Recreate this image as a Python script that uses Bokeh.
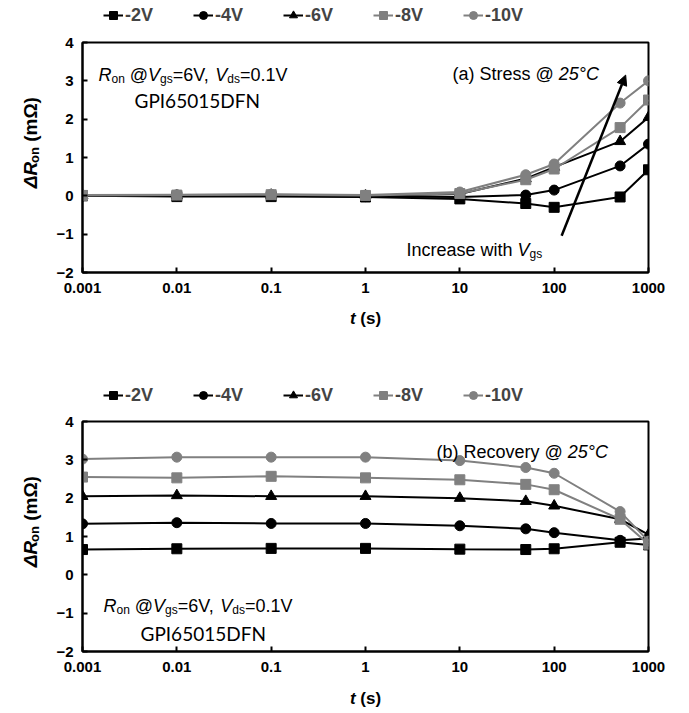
import math
from bokeh.plotting import figure
from bokeh.layouts import column, row
from bokeh.models import (Legend, LegendItem, FixedTicker, Label, Arrow,
                          NormalHead, Range1d)
from bokeh.embed import file_html
from bokeh.resources import INLINE

# ---------------- data ----------------
times = [0.001, 0.01, 0.1, 1, 10, 50, 100, 500, 1000]
series_names = ["-2V", "-4V", "-6V", "-8V", "-10V"]

stress_2v = [0.0, -0.02, -0.02, -0.03, -0.08, -0.2, -0.3, -0.03, 0.68]
stress_4v = [0.0, 0.0, 0.0, -0.02, -0.03, 0.02, 0.15, 0.78, 1.35]
stress_6v = [0.01, 0.01, 0.02, 0.0, 0.05, 0.45, 0.75, 1.42, 2.05]
stress_8v = [0.01, 0.02, 0.03, 0.01, 0.06, 0.42, 0.7, 1.78, 2.5]
stress_10v = [0.02, 0.03, 0.04, 0.02, 0.1, 0.55, 0.83, 2.42, 3.0]

recov_2v = [0.66, 0.68, 0.69, 0.69, 0.67, 0.66, 0.68, 0.85, 0.78]
recov_4v = [1.33, 1.36, 1.34, 1.34, 1.28, 1.2, 1.1, 0.9, 0.95]
recov_6v = [2.05, 2.07, 2.05, 2.05, 2.0, 1.92, 1.8, 1.45, 1.05]
recov_8v = [2.55, 2.53, 2.57, 2.53, 2.48, 2.36, 2.22, 1.45, 0.8]
recov_10v = [3.02, 3.07, 3.07, 3.07, 2.98, 2.8, 2.65, 1.65, 0.88]

x_ticks = [0.001, 0.01, 0.1, 1, 10, 100, 1000]
x_tick_labels = ["0.001", "0.01", "0.1", "1", "10", "100", "1000"]
y_ticks = [-2, -1, 0, 1, 2, 3, 4]

BLACK = "#000000"
GRAY = "#808080"
styles = [("square", BLACK, 10), ("circle", BLACK, 10), ("triangle", BLACK, 11),
          ("square", GRAY, 10), ("circle", GRAY, 10)]

FONT = "Liberation Sans"

# Arial-metric character widths (per 1000 em)
AR = {" ": 278, "(": 333, ")": 333, ",": 278, "-": 333, ".": 278, "=": 584,
      "@": 1015, "C": 722, "I": 278, "R": 722, "S": 667, "V": 667, "a": 556,
      "b": 556, "c": 500, "d": 556, "e": 556, "g": 556, "h": 556, "i": 222,
      "n": 556, "o": 556, "r": 333, "s": 500, "t": 278, "v": 500, "w": 722,
      "y": 500, "°": 400, "Δ": 612, "m": 833, "Ω": 768}
AB = dict(AR)
AB.update({"o": 611, "n": 611, "t": 333, "s": 556, "m": 889})


def tw(s, size, style):
    tab = AB if "bold" in style else AR
    return sum(tab.get(c, 556) for c in s) * size / 1000.0


def rich(p, x, y, pieces, bx=0.0, by=0.0, angle=0.0, center=False,
         baseline="alphabetic", font=FONT):
    widths = [tw(t, s, st) for (t, s, st, sh) in pieces]
    total = sum(widths)
    pos = -total / 2.0 if center else 0.0
    for (t, s, st, sh), w in zip(pieces, widths):
        lead = len(t) - len(t.lstrip(" "))
        d = pos + tw(" " * lead, s, st)
        if angle == 0:
            xo, yo = bx + d, by + sh
        else:
            xo, yo = bx - sh, by + d
        p.add_layout(Label(x=x, y=y, x_offset=xo, y_offset=yo, text=t.strip(),
                           text_font=font, text_font_size=f"{s}px",
                           text_font_style=st, text_color="black",
                           angle=angle, text_align="left",
                           text_baseline=baseline))
        pos += w


def blank(width, height):
    """A bare figure whose frame covers it all, 1 data unit = 1 px."""
    q = figure(width=width, height=height, x_axis_type=None, y_axis_type=None,
               x_range=Range1d(0, width), y_range=Range1d(0, height),
               output_backend="svg", toolbar_location=None,
               min_border=0, min_border_left=0, min_border_right=0,
               min_border_top=0, min_border_bottom=0)
    q.outline_line_color = None
    q.background_fill_color = "white"
    q.border_fill_color = "white"
    return q


def legend_strip(series, height, loc_y):
    q = blank(689, height)
    items = []
    for name, vals, (marker, color, size) in zip(series_names, series, styles):
        r1 = q.line(times, vals, line_color=color, line_width=2, visible=False)
        r2 = q.scatter(times, vals, marker=marker, size=size,
                       fill_color=color, line_color=color, visible=False)
        items.append(LegendItem(label=name, renderers=[r1, r2]))
    legend = Legend(items=items, orientation="horizontal", location=(103, loc_y),
                    glyph_width=20, glyph_height=22, label_height=22,
                    label_width=55, label_standoff=2, spacing=13,
                    padding=0, margin=0, border_line_alpha=0,
                    background_fill_alpha=0,
                    inactive_fill_alpha=0,
                    label_text_font=FONT, label_text_font_style="bold",
                    label_text_font_size="18px")
    q.add_layout(legend, "center")
    return q


def ylabel_strip(height, cy):
    q = blank(52, height)
    rich(q, 30, cy, [("ΔR", 19, "bold italic", 0),
                     ("on", 13, "bold", -4),
                     (" (mΩ)", 19, "bold", 0)],
         angle=math.pi / 2, center=True, baseline="middle")
    return q


def xlabel_strip(height, cy):
    q = blank(689, height)
    rich(q, 365, cy, [("t", 17, "bold italic", 0), (" (s)", 17, "bold", 0)],
         center=True, baseline="middle")
    return q


def make_fig(series):
    p = figure(width=637, height=270, x_axis_type="log",
               x_range=Range1d(0.001, 1000), y_range=Range1d(-2, 4),
               output_backend="svg", toolbar_location=None,
               min_border_left=30, min_border_right=41, min_border_top=10,
               min_border_bottom=30)
    p.grid.visible = False
    p.outline_line_color = "black"
    p.outline_line_width = 2
    p.outline_line_alpha = 1.0
    p.background_fill_color = "white"
    p.border_fill_color = "white"

    p.xaxis.ticker = FixedTicker(ticks=x_ticks)
    p.xaxis.major_label_overrides = {t: l for t, l in zip(x_ticks, x_tick_labels)}
    p.yaxis.ticker = FixedTicker(ticks=y_ticks)
    for ax in (p.xaxis[0], p.yaxis[0]):
        ax.axis_line_width = 2
        ax.axis_line_color = "black"
        ax.major_tick_in = 5
        ax.major_tick_out = 0
        ax.major_tick_line_width = 2
        ax.minor_tick_line_color = None
        ax.major_label_text_font = FONT
        ax.major_label_text_font_style = "bold"
        ax.major_label_text_font_size = "15px"
        ax.major_label_text_color = "black"
    p.xaxis.major_label_standoff = 10
    p.yaxis.major_label_standoff = 9

    for vals, (marker, color, size) in zip(series, styles):
        p.line(times, vals, line_color=color, line_width=2)
        p.scatter(times, vals, marker=marker, size=size,
                  fill_color=color, line_color=color)
    return p


ron_pieces = [("R", 18, "italic", 0), ("on", 12, "normal", -4),
              (" @", 18, "normal", 0), ("V", 18, "italic", 0),
              ("gs", 12, "normal", -4), ("=6V, ", 18, "normal", 0),
              ("V", 18, "italic", 0), ("ds", 12, "normal", -4),
              ("=0.1V", 18, "normal", 0)]

stress = [stress_2v, stress_4v, stress_6v, stress_8v, stress_10v]
recovery = [recov_2v, recov_4v, recov_6v, recov_8v, recov_10v]

# ---------------- top: stress ----------------
p1 = make_fig(stress)
rich(p1, 0.001, 3.15, ron_pieces, bx=16)
p1.add_layout(Label(x=0.001, y=2.5, x_offset=52, text="GPI65015DFN",
                    text_font="Lato", text_font_size="19px",
                    text_color="black", text_baseline="alphabetic"))
rich(p1, 0.001, 3.18, [("(a) Stress @ ", 18, "normal", 0),
                       ("25°C", 18, "italic", 0)], bx=370)
rich(p1, 0.001, -1.42, [("Increase with ", 18, "normal", 0),
                        ("V", 18, "italic", 0), ("gs", 12, "normal", -4)],
     bx=324)
p1.add_layout(Arrow(end=NormalHead(size=10, fill_color="black",
                                   line_color="black"),
                    x_start=120, y_start=-1.04, x_end=573, y_end=3.15,
                    line_width=2.5, line_color="black"))

# ---------------- bottom: recovery ----------------
p2 = make_fig(recovery)
rich(p2, 0.001, 3.2, [("(b) Recovery @ ", 18, "normal", 0),
                      ("25°C", 18, "italic", 0)], bx=354)
rich(p2, 0.001, -0.8, ron_pieces, bx=21)
p2.add_layout(Label(x=0.001, y=-1.52, x_offset=58, text="GPI65015DFN",
                    text_font="Lato", text_font_size="19px",
                    text_color="black", text_baseline="alphabetic"))

layout = column(
    legend_strip(stress, 32, 6),
    row(ylabel_strip(270, 152), p1, spacing=0),
    xlabel_strip(80, 64),
    legend_strip(recovery, 29, 5),
    row(ylabel_strip(270, 152), p2, spacing=0),
    xlabel_strip(30, 13),
    spacing=0,
)
open("out.html", "w").write(file_html(layout, INLINE))
